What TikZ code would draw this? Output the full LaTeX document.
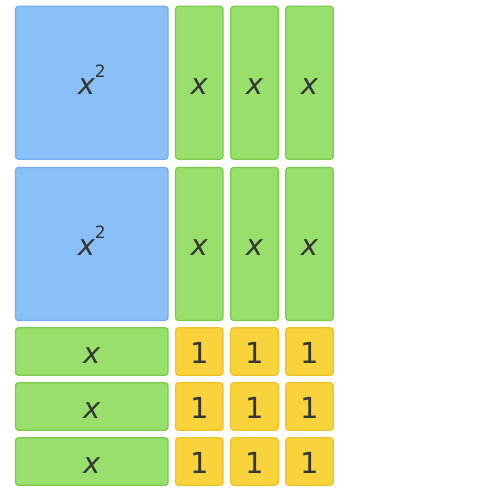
\documentclass[tikz,border=0pt]{standalone}
\usepackage{fontspec}
\setmainfont{DejaVu Sans}
\definecolor{bluefill}{HTML}{8BBFF8}
\definecolor{blueline}{HTML}{74AEF2}
\definecolor{greenfill}{HTML}{98DF6B}
\definecolor{greenline}{HTML}{79CB4C}
\definecolor{yellowfill}{HTML}{F8D33C}
\definecolor{yellowline}{HTML}{F0C324}
\definecolor{txt}{HTML}{353535}
\newcommand{\varx}{\itshape x}
\newcommand{\sqx}{\itshape x\raisebox{17pt}{\fontsize{17}{17}\selectfont\upshape 2}}
\begin{document}
\begin{tikzpicture}[x=1pt,y=-1pt,
  tile/.style={draw, line width=1.3pt, rounded corners=3pt, inner sep=0pt,
    text=txt, font=\fontsize{29}{29}\selectfont, text height=25.6pt, text depth=1.8pt},
  bigsq/.style={tile, fill=bluefill, draw=blueline, minimum width=152.5pt, minimum height=153pt},
  vbar/.style={tile, fill=greenfill, draw=greenline, minimum width=47.5pt, minimum height=153pt},
  hbar/.style={tile, fill=greenfill, draw=greenline, minimum width=152.5pt, minimum height=47.5pt},
  unit/.style={tile, fill=yellowfill, draw=yellowline, minimum width=47.5pt, minimum height=47.5pt}]
\useasboundingbox (0,0) rectangle (500,500);
% big row 1
\node[bigsq] (s1) at (91.75,82.75) {\sqx};
\node[vbar] (v11) at (199.25,82.75) {\varx};
\node[vbar] (v12) at (254.5,82.75) {\varx};
\node[vbar] (v13) at (309.5,82.75) {\varx};
% big row 2
\node[bigsq] (s2) at (91.75,244) {\sqx};
\node[vbar] (v21) at (199.25,244) {\varx};
\node[vbar] (v22) at (254.5,244) {\varx};
\node[vbar] (v23) at (309.5,244) {\varx};
% small rows
\foreach \r/\yy in {1/351.5, 2/406.5, 3/461.5} {
  \node[hbar] (h\r) at (91.75,\yy) {\varx};
  \node[unit] (u\r1) at (199.25,\yy) {1};
  \node[unit] (u\r2) at (254.5,\yy) {1};
  \node[unit] (u\r3) at (309.5,\yy) {1};
}
\end{tikzpicture}
\end{document}
